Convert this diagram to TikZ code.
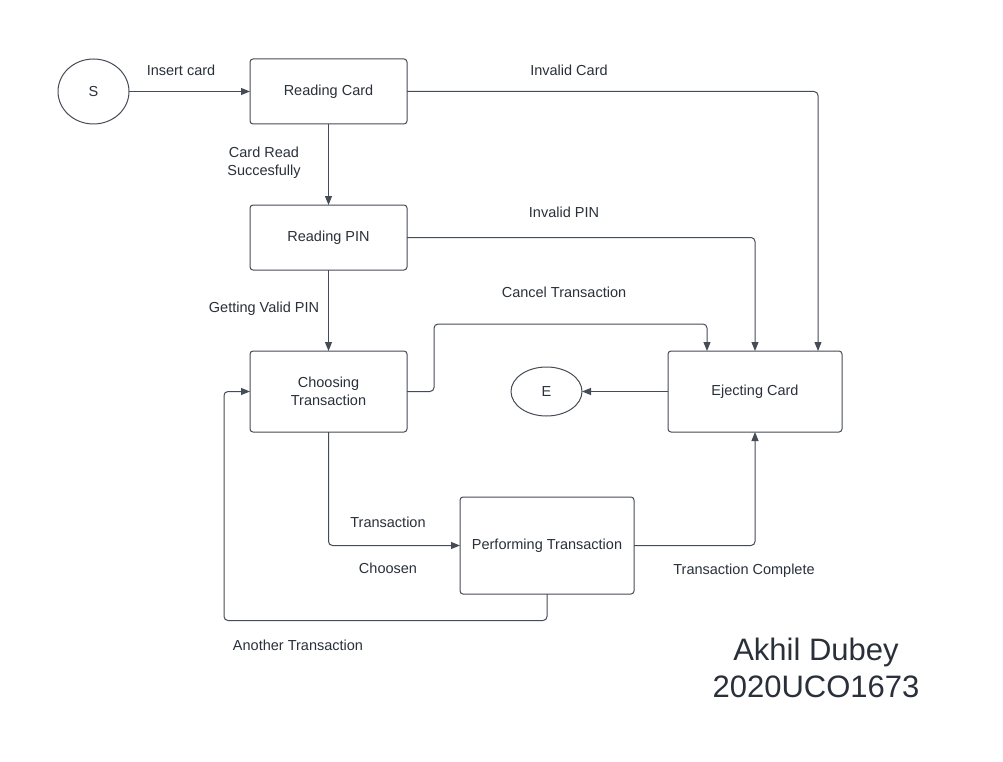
\documentclass[tikz,border=0pt]{standalone}
\usepackage{fontspec}
\setmainfont{Liberation Sans}
\usetikzlibrary{arrows.meta,shapes.geometric,calc}
\definecolor{lc}{RGB}{70,76,86}
\definecolor{tc}{RGB}{42,48,58}
\tikzset{
  stbox/.style={draw=lc, line width=1pt, rounded corners=3pt, inner sep=0pt, outer sep=0pt,
    text=tc, font=\fontsize{14.5}{18}\selectfont, align=center},
  stcirc/.style={draw=lc, line width=1pt, ellipse, inner sep=0pt, outer sep=0pt,
    text=tc, font=\fontsize{14.5}{18}\selectfont},
  arr/.style={draw=lc, line width=1pt, rounded corners=4pt, -{Triangle[length=9pt,width=7pt]}},
  lbl/.style={text=tc, inner sep=0pt, font=\fontsize{14.5}{18}\selectfont, align=center},
}
\begin{document}
\begin{tikzpicture}[x=1pt,y=-1pt]
\useasboundingbox[fill=white] (0,0) rectangle (1003,762);
% states
\node[stcirc, minimum width=71pt, minimum height=65pt] (S) at (93.5,91.5) {S};
\node[stbox, minimum width=157pt, minimum height=65pt] (rc) at (328.5,91.5) {Reading Card};
\node[stbox, minimum width=157pt, minimum height=65pt] (rp) at (328.5,237.5) {Reading PIN};
\node[stbox, minimum width=157pt, minimum height=81pt] (ct) at (328.5,391.5) {Choosing\\Transaction};
\node[stbox, minimum width=174pt, minimum height=81pt] (ej) at (755,391.5) {Ejecting Card};
\node[stcirc, minimum width=71pt, minimum height=49pt] (E) at (546.5,391.5) {E};
\node[stbox, minimum width=174pt, minimum height=97pt] (pt) at (547,545.5) {Performing Transaction};
% connectors
\draw[arr] (S) -- (rc);
\draw[arr] (rc.east) -| ([xshift=63pt]ej.north);
\draw[arr] (rc.south) -- (rp.north);
\draw[arr] (rp.east) -| (ej.north);
\draw[arr] (rp.south) -- (ct.north);
\draw[arr] (ct.east) -- ++(27,0) -- ++(0,-67.5) -| ([xshift=-48pt]ej.north);
\draw[arr] (ej.west) -- (E.east);
\draw[arr] (ct.south) |- (pt.west);
\draw[arr] (pt.east) -| (ej.south);
\draw[arr] (pt.south) -- ++(0,26.5) -| ([xshift=-26pt]ct.west) -- (ct.west);
% labels
\node[lbl] (l1) at (181,70) {Insert card};
\node[lbl] (l2) at (569,70) {Invalid Card};
\node[lbl] (l3) at (264,163) {Card Read\\Succesfully};
\node[lbl] (l4) at (564,212) {Invalid PIN};
\node[lbl] (l5) at (264,309) {Getting Valid PIN};
\node[lbl] (l6) at (564,292) {Cancel Transaction};
\node[lbl] (l7) at (388,522) {Transaction};
\node[lbl] (l8) at (388,568) {Choosen};
\node[lbl] (l9) at (744,571) {Transaction Complete};
\node[lbl] (l10) at (298,645) {Another Transaction};
\node[lbl, font=\fontsize{31}{37}\selectfont] (au) at (816,668) {Akhil Dubey\\2020UCO1673};
\end{tikzpicture}
\end{document}
